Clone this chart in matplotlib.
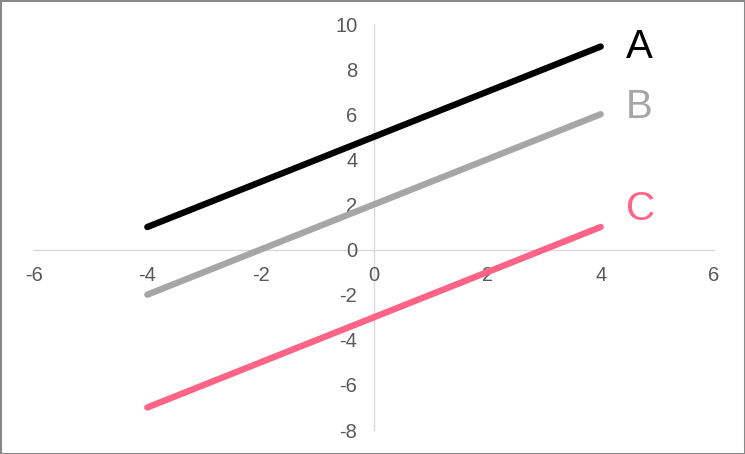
import matplotlib
matplotlib.use("Agg")
import matplotlib.pyplot as plt
from matplotlib.patches import Rectangle

plt.rcParams['font.family'] = ['Liberation Sans', 'DejaVu Sans']
plt.rcParams['axes.unicode_minus'] = False

x = [-4, -3, -2, -1, 0, 1, 2, 3, 4]
series_a = [1, 2, 3, 4, 5, 6, 7, 8, 9]
series_b = [-2, -1, 0, 1, 2, 3, 4, 5, 6]
series_c = [-7, -6, -5, -4, -3, -2, -1, 0, 1]
labels = ["A", "B", "C"]
colors = ["#000000", "#a6a6a6", "#ff6385"]
label_y = [9, 6.3, 1.8]
xticks = [-6, -4, -2, 0, 2, 4, 6]
yticks = [-8, -6, -4, -2, 0, 2, 4, 6, 8, 10]

fig = plt.figure(figsize=(7.45, 4.54), dpi=100)
ax = fig.add_axes([34/745, 24/454, 680/745, 406/454])

for ys, c in zip([series_a, series_b, series_c], colors):
    ax.plot(x, ys, color=c, lw=4.6, solid_capstyle='round',
            solid_joinstyle='round', zorder=5)

for lab, c, ly in zip(labels, colors, label_y):
    ax.text(4.45, ly, lab, color=c, fontsize=29, va='center', ha='left')

ax.set_xlim(-6, 6)
ax.set_ylim(-8, 10)
ax.set_xticks(xticks)
ax.set_yticks(yticks)
ax.spines['left'].set_position(('data', 0))
ax.spines['bottom'].set_position(('data', 0))
ax.spines['right'].set_visible(False)
ax.spines['top'].set_visible(False)
for s in ['left', 'bottom']:
    ax.spines[s].set_color('#d9d9d9')
    ax.spines[s].set_linewidth(1.0)
    ax.spines[s].set_zorder(1)
ax.tick_params(length=0, labelsize=14.5, labelcolor='#595959')
ax.tick_params(axis='x', pad=12)
ax.tick_params(axis='y', pad=12)

fig.patches.append(Rectangle((0, 0), 1, 1, transform=fig.transFigure,
                             fill=False, edgecolor='#888888', lw=2.2))
fig.savefig("out.png", dpi=100)
